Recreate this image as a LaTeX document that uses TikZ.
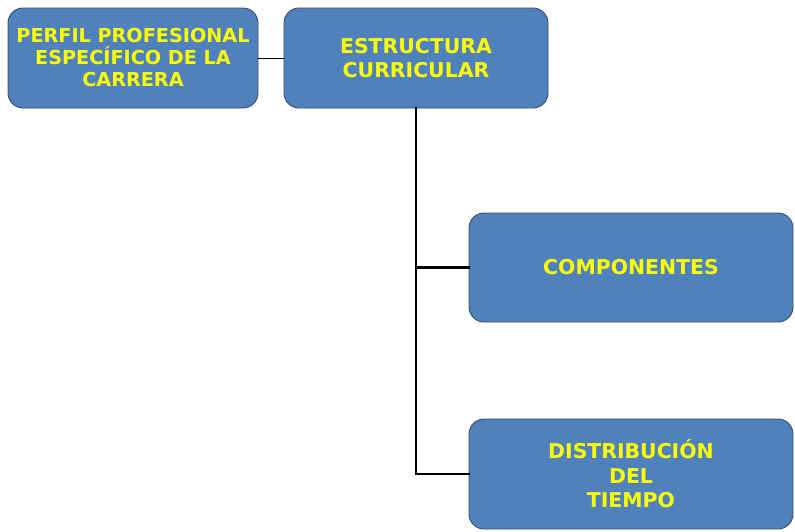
\documentclass[tikz,border=0pt]{standalone}
\usepackage{fontspec}
\setmainfont{DejaVu Sans}
\usepackage{tikz}
\usetikzlibrary{calc,positioning}
\definecolor{boxblue}{HTML}{4F81BD}
\definecolor{boxline}{HTML}{3C4E66}
\definecolor{txtyellow}{HTML}{FFFF00}

\begin{document}
\begin{tikzpicture}[x=1pt,y=-1pt,font=\bfseries]

\tikzset{bluebox/.style={fill=boxblue,draw=boxline,line width=0.9pt,rounded corners=15pt,align=center,text=txtyellow,inner sep=0pt,font=\bfseries\fontsize{20.4}{24.5}\selectfont},
smalltext/.style={font=\bfseries\fontsize{19.2}{22}\selectfont},
branch/.style={line width=2.6pt,line cap=rect}}

% Frame
\useasboundingbox (0,0) rectangle (795,531);

% Boxes
\node[bluebox,smalltext,minimum width=250pt,minimum height=100pt] (perfil) at (133,58) {PERFIL PROFESIONAL\\ESPECÍFICO DE LA\\CARRERA};
\node[bluebox,minimum width=264pt,minimum height=100pt] (estructura) at (416,58) {ESTRUCTURA\\CURRICULAR};
\node[bluebox,minimum width=324pt,minimum height=109pt] (componentes) at (631,267.5) {COMPONENTES};
\node[bluebox,minimum width=324pt,minimum height=110pt] (distribucion) at (631,474) {DISTRIBUCIÓN\\DEL\\TIEMPO};

% Links
\draw[line width=0.9pt] (perfil.east) -- (estructura.west);
\draw[branch] (estructura.south) |- (distribucion.west);
\draw[branch] (componentes.west) -- (componentes.west -| estructura.south);

\end{tikzpicture}
\end{document}
